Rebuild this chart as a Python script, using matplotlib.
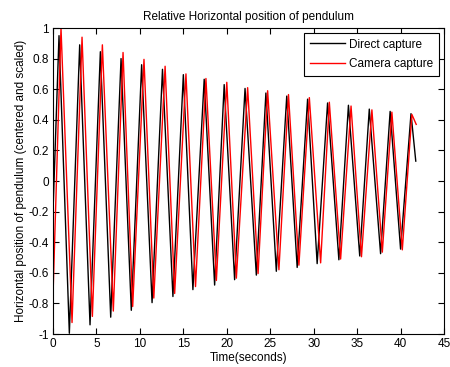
import numpy as np
import matplotlib
matplotlib.use("Agg")
import matplotlib.pyplot as plt

plt.rcParams["font.family"] = ["Liberation Sans", "DejaVu Sans"]

# Direct capture (black) - extrema
black_peak_t = [0.69, 3.07, 5.45, 7.83, 10.2, 12.6, 15.0, 17.4, 19.7, 22.1, 24.5, 26.9, 29.3, 31.6, 34.0, 36.4, 38.8, 41.2]
black_peak_v = [0.95, 0.89, 0.845, 0.80, 0.76, 0.73, 0.695, 0.665, 0.63, 0.605, 0.575, 0.555, 0.535, 0.51, 0.495, 0.47, 0.455, 0.44]
black_trough_t = [1.88, 4.26, 6.64, 9.01, 11.4, 13.8, 16.1, 18.6, 20.9, 23.4, 25.7, 28.1, 30.4, 32.9, 35.3, 37.7, 40.0]
black_trough_v = [-0.995, -0.94, -0.89, -0.845, -0.795, -0.755, -0.71, -0.68, -0.645, -0.615, -0.59, -0.565, -0.54, -0.515, -0.49, -0.475, -0.445]
black_ends_t = [0.0, 41.75]
black_ends_v = [-0.2, 0.13]

# Camera capture (red)
red_peak_t = [0.92, 3.34, 5.68, 8.06, 10.47, 12.9, 15.3, 17.6, 20.0, 22.4, 24.7, 27.1, 29.5, 31.8, 34.3, 36.7, 39.0, 41.3]
red_peak_v = [1.0, 0.94, 0.89, 0.84, 0.795, 0.75, 0.70, 0.67, 0.645, 0.61, 0.59, 0.565, 0.545, 0.515, 0.49, 0.465, 0.45, 0.435]
red_trough_t = [2.19, 4.53, 6.94, 9.17, 11.6, 14.0, 16.4, 18.8, 21.1, 23.6, 26.0, 28.3, 30.8, 33.1, 35.5, 37.9, 40.2]
red_trough_v = [-0.925, -0.885, -0.85, -0.82, -0.765, -0.735, -0.69, -0.65, -0.635, -0.605, -0.58, -0.55, -0.535, -0.51, -0.495, -0.465, -0.45]
red_ends_t = [0.0, 41.8]
red_ends_v = [-0.75, 0.37]

x_ticks = [0, 5, 10, 15, 20, 25, 30, 35, 40, 45]
y_ticks = [-1, -0.8, -0.6, -0.4, -0.2, 0, 0.2, 0.4, 0.6, 0.8, 1]
y_labels = ["-1", "-0.8", "-0.6", "-0.4", "-0.2", "0", "0.2", "0.4", "0.6", "0.8", "1"]


def series(pt, pv, tt, tv, et, ev):
    t = np.concatenate([pt, tt, et])
    v = np.concatenate([pv, tv, ev])
    order = np.argsort(t)
    return t[order], v[order]


bt, bv = series(black_peak_t, black_peak_v, black_trough_t, black_trough_v, black_ends_t, black_ends_v)
rt, rv = series(red_peak_t, red_peak_v, red_trough_t, red_trough_v, red_ends_t, red_ends_v)

fig = plt.figure(figsize=(4.5, 3.67), dpi=100)
ax = fig.add_axes([0.1178, 0.0899, 0.8689, 0.8338])

ax.plot(bt, bv, color="black", lw=1.0, label="Direct capture")
ax.plot(rt, rv, color="red", lw=1.0, label="Camera capture")

ax.set_xlim(0, 45)
ax.set_ylim(-1, 1)
ax.set_xticks(x_ticks)
ax.set_yticks(y_ticks)
ax.set_yticklabels(y_labels)
ax.tick_params(direction="in", top=True, right=True, length=4, labelsize=8.5, pad=3)

ax.set_title("Relative Horizontal position of pendulum", fontsize=8.5, pad=6)
ax.set_xlabel("Time(seconds)", fontsize=8.5, labelpad=1)
ax.set_ylabel("Horizontal position of pendulum (centered and scaled)", fontsize=8.5, labelpad=1)

leg = ax.legend(loc="upper right", fontsize=8.5, frameon=True, fancybox=False,
                edgecolor="black", framealpha=1, handlelength=3.0,
                borderaxespad=0.45, borderpad=0.45, labelspacing=0.65,
                handletextpad=0.35)
leg.get_frame().set_linewidth(0.8)

fig.savefig("out.png", dpi=100)
